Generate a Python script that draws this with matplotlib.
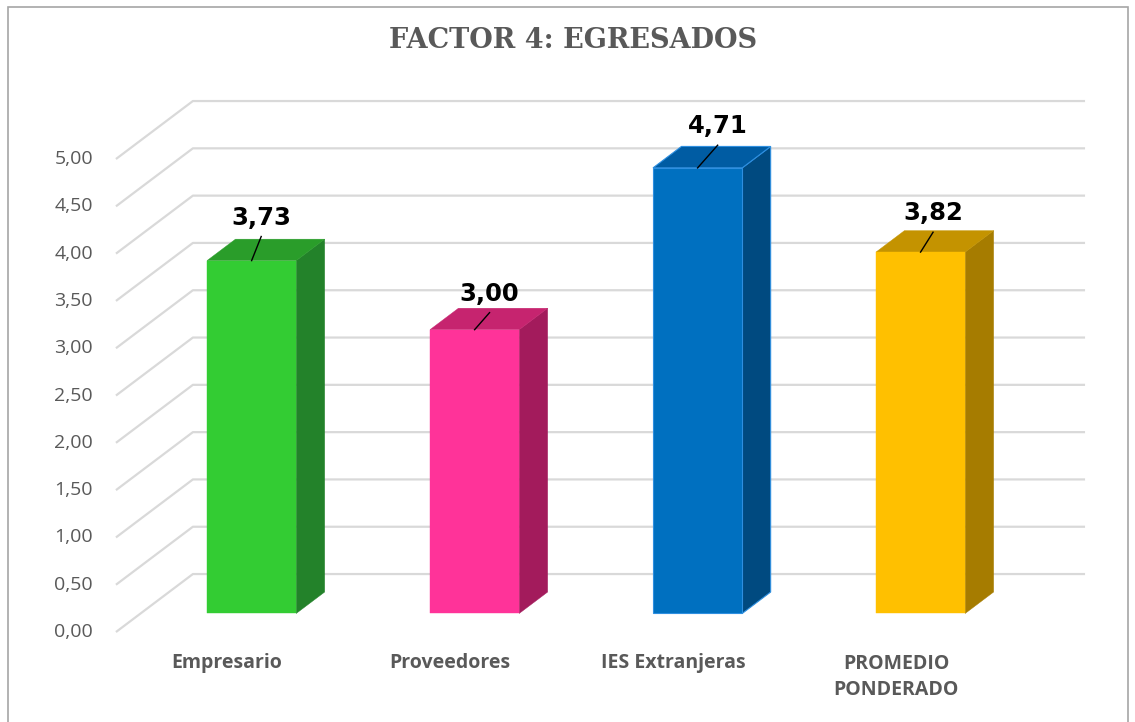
import matplotlib
matplotlib.use("Agg")
import matplotlib.pyplot as plt
from matplotlib.patches import Polygon, Rectangle

# --- data ---
categories = ["Empresario", "Proveedores", "IES Extranjeras", "PROMEDIO\nPONDERADO"]
values = [3.73, 3.00, 4.71, 3.82]
labels = ["3,73", "3,00", "4,71", "3,82"]
yticks = [0.0, 0.5, 1.0, 1.5, 2.0, 2.5, 3.0, 3.5, 4.0, 4.5, 5.0]

# --- style ---
face_c = ["#33CC33", "#FF3399", "#0070C0", "#FFC000"]
top_c = ["#2A9D2A", "#C6246F", "#005CA3", "#C49300"]
side_c = ["#23822A", "#A31B5C", "#004A80", "#A67C00"]
edge_c = [None, None, "#2E8FE0", None]
grey = "#595959"
grid_c = "#D9D9D9"

# 3d look: depth offset of the floor (category units, value units)
DX, DV = 0.345, 0.613
D0, D1 = 0.32, 0.69          # bar front / back depth
W = 0.40                     # bar width
GX0, GX1 = -0.498, 3.848     # floor left (front) and back wall right end
# label offsets from the front top centre (cat units, value units)
lab_dx = [0.043, 0.067, 0.090, 0.056]
lab_dv = [0.455, 0.38, 0.44, 0.41]


def P(x, v, d):
    return (x + DX * d, v + DV * d)


fig = plt.figure(figsize=(11.35, 7.22), dpi=100)
ax = fig.add_axes([0, 0, 1, 1])
ax.set_xlim(-1.018, 4.072)
ax.set_ylim(-0.951, 6.681)
ax.axis("off")

# frame of the chart area
fig.patches.append(Rectangle((8 / 1135, -0.01), 1120 / 1135, 1 - 7 / 722 + 0.01,
                             transform=fig.transFigure, fill=False,
                             edgecolor="#A6A6A6", lw=1.2))

# grid: diagonal on the side wall + horizontal on the back wall
for v in yticks:
    xa, va = P(GX0, v, 0)
    xb, vb = P(GX0, v, 1)
    ax.plot([xa, xb, GX1], [va, vb, vb], color=grid_c, lw=1.6,
            solid_capstyle="butt", zorder=1)
    ax.text(-0.601, v, f"{v:.2f}".replace(".", ","), ha="right", va="center",
            fontsize=14, color=grey, family="Open Sans")

for i, v in enumerate(values):
    xl, xr = i - W / 2, i + W / 2
    front = [P(xl, 0, D0), P(xr, 0, D0), P(xr, v, D0), P(xl, v, D0)]
    side = [P(xr, 0, D0), P(xr, 0, D1), P(xr, v, D1), P(xr, v, D0)]
    top = [P(xl, v, D0), P(xr, v, D0), P(xr, v, D1), P(xl, v, D1)]
    ec = edge_c[i]
    for poly, col in ((side, side_c[i]), (top, top_c[i]), (front, face_c[i])):
        ax.add_patch(Polygon(poly, closed=True, facecolor=col,
                             edgecolor=ec if ec else col, lw=0.8 if ec else 0.3,
                             zorder=3))
    # data label with leader line
    fx, fv = P(i, v, D0)
    lx, lv = fx + lab_dx[i], fv + lab_dv[i]
    ax.plot([fx, lx], [fv, lv - 0.20], color="black", lw=1.0, zorder=4)
    ax.text(lx, lv, labels[i], ha="center", va="center", fontsize=17.5,
            fontweight="heavy", family="DejaVu Sans", color="black", zorder=5)
    # category label
    ax.text(i, -0.33 if "\n" not in categories[i] else -0.475, categories[i],
            ha="center", va="center", fontsize=14, fontweight="bold",
            family="Open Sans", color=grey, linespacing=1.42)

fig.text(573 / 1135, 1 - 40 / 722, "FACTOR 4: EGRESADOS", ha="center",
         va="center", fontsize=19.5, fontweight="bold", family="DejaVu Serif",
         color=grey)

fig.savefig("out.png", dpi=100)
